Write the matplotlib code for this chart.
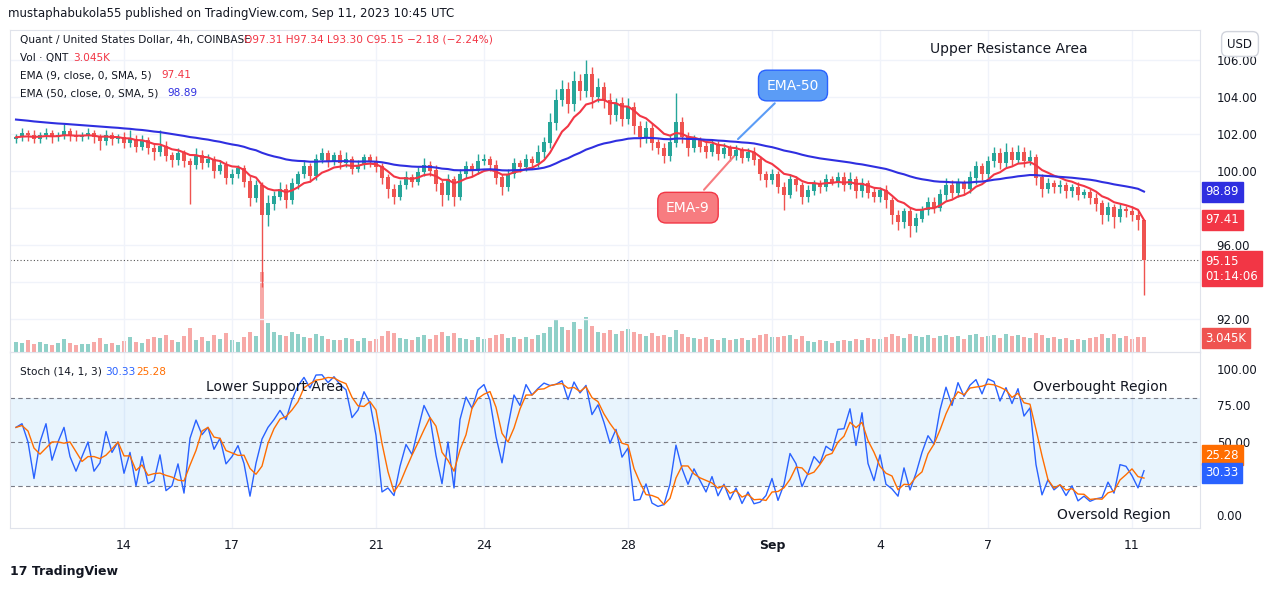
import numpy as np
import matplotlib.pyplot as plt

# ================= data (4h candles, Aug 11 00:00 -> Sep 11 08:00) =================
closes = [
    101.8, 102.0, 101.9, 101.7, 101.9, 102.0,
    101.8, 101.9, 102.1, 101.9, 101.8, 101.9,
    102.0, 101.8, 101.6, 101.9, 101.7, 101.8,
    101.5, 101.7, 101.3, 101.6, 101.2, 101.0,
    101.3, 100.8, 100.6, 100.9, 100.5, 100.3,
    100.8, 100.4, 100.6, 100.0, 100.3, 99.6,
    99.8, 100.1, 99.4, 98.5, 99.2, 97.6,
    98.2, 98.6, 99.0, 98.4, 99.3, 99.8,
    100.2, 99.7, 100.6, 100.9, 100.5, 100.8,
    100.4, 100.6, 100.1, 100.3, 100.7, 100.5,
    100.2, 99.6, 99.0, 98.6, 99.2, 99.6,
    99.4, 99.9, 100.3, 100.0, 99.3, 98.7,
    99.5, 98.6, 99.8, 100.2, 100.0, 100.5,
    100.6, 100.3, 99.6, 99.1, 99.8, 100.4,
    100.2, 100.6, 100.4, 101.0, 101.5, 102.6,
    103.8, 104.4, 103.6, 104.8, 104.3, 105.2,
    104.0, 104.5, 103.8, 103.0, 103.6, 102.8,
    103.4, 102.4, 101.8, 102.3, 101.5, 101.2,
    100.8, 101.5, 102.6, 101.8, 101.2, 101.6,
    101.3, 101.0, 101.4, 100.9, 101.2, 100.8,
    101.1, 100.7, 101.0, 100.6, 99.8, 99.5,
    99.8, 99.1, 98.7, 99.5, 99.2, 98.6,
    98.9, 99.3, 99.1, 99.5, 99.4, 99.6,
    99.2, 99.5, 98.9, 99.3, 98.8, 98.6,
    98.9, 98.4, 97.6, 97.2, 97.8, 97.0,
    97.4, 97.9, 98.3, 98.0, 98.7, 99.2,
    98.8, 99.3, 99.0, 99.6, 100.2, 99.8,
    100.5, 100.9, 100.4, 101.0, 100.6, 101.0,
    100.5, 100.7, 99.6, 99.0, 99.3, 99.1,
    99.2, 98.9, 99.1, 98.7, 98.8, 98.5,
    98.2, 97.6, 98.0, 97.5, 97.9, 97.8,
    97.6, 97.31, 95.15,
]
first_open = 101.7

# wick lengths above/below the body
wick_up = [
    0.2, 0.3, 0.2, 0.3, 0.2, 0.3, 0.2, 0.2, 0.4, 0.2, 0.3, 0.2,
    0.3, 0.2, 0.2, 0.3, 0.2, 0.2, 0.3, 0.5, 0.2, 0.3, 0.2, 0.3,
    0.9, 0.3, 0.2, 0.3, 0.2, 0.2, 0.4, 0.3, 0.3, 0.2, 0.3, 0.2,
    0.3, 0.2, 0.2, 0.3, 0.3, 0.2, 0.5, 0.3, 0.4, 0.3, 0.3, 0.2,
    0.4, 0.2, 0.3, 0.3, 0.2, 0.2, 0.3, 0.4, 0.2, 0.3, 0.2, 0.2,
    0.3, 0.2, 0.2, 0.3, 0.3, 0.4, 0.2, 0.3, 0.4, 0.2, 0.3, 0.2,
    0.3, 0.2, 0.3, 0.3, 0.2, 0.4, 0.3, 0.2, 0.3, 0.2, 0.3, 0.3,
    0.2, 0.3, 0.2, 0.4, 0.3, 0.5, 0.6, 0.5, 0.4, 0.6, 0.4, 0.8,
    0.4, 0.5, 0.3, 0.4, 0.3, 0.4, 0.5, 0.3, 0.3, 0.4, 0.3, 0.2,
    0.3, 0.4, 1.6, 0.3, 0.3, 0.3, 0.2, 0.3, 0.3, 0.2, 0.3, 0.2,
    0.3, 0.2, 0.2, 0.3, 0.2, 0.2, 0.3, 0.2, 0.3, 0.3, 0.2, 0.2,
    0.3, 0.2, 0.2, 0.3, 0.2, 0.3, 0.3, 0.4, 0.2, 0.3, 0.2, 0.3,
    0.2, 0.3, 0.2, 0.3, 0.2, 0.2, 0.3, 0.2, 0.3, 0.3, 0.3, 0.4,
    0.3, 0.3, 0.2, 0.4, 0.3, 0.2, 0.3, 0.4, 0.3, 0.5, 0.3, 0.4,
    0.3, 0.4, 0.2, 0.2, 0.3, 0.2, 0.3, 0.2, 0.2, 0.3, 0.2, 0.2,
    0.3, 0.2, 0.3, 0.2, 0.3, 0.2, 0.3, 0.2, 0.03,
]
wick_dn = [
    0.2, 0.2, 0.3, 0.2, 0.2, 0.2, 0.3, 0.2, 0.2, 0.3, 0.2, 0.2,
    0.2, 0.3, 0.5, 0.2, 0.3, 0.2, 0.3, 0.2, 0.3, 0.2, 0.3, 0.4,
    0.2, 0.3, 0.4, 0.3, 0.3, 2.1, 0.2, 0.3, 0.2, 0.4, 0.2, 0.3,
    0.3, 0.2, 0.3, 0.4, 0.2, 3.9, 0.6, 0.3, 0.2, 0.4, 0.2, 0.3,
    0.2, 0.3, 0.2, 0.2, 0.3, 0.2, 0.3, 0.2, 0.3, 0.2, 0.2, 0.3,
    0.3, 0.3, 0.5, 0.4, 0.2, 0.2, 0.3, 0.2, 0.2, 0.3, 0.4, 0.6,
    0.3, 0.5, 0.2, 0.2, 0.3, 0.2, 0.2, 0.3, 0.3, 0.4, 0.2, 0.2,
    0.3, 0.2, 0.3, 0.2, 0.3, 0.3, 0.4, 0.3, 0.5, 0.4, 0.5, 0.3,
    0.6, 0.3, 0.4, 0.5, 0.3, 0.4, 0.3, 0.4, 0.5, 0.3, 0.4, 0.3,
    0.4, 0.3, 0.2, 0.3, 0.4, 0.2, 0.3, 0.3, 0.2, 0.3, 0.2, 0.3,
    0.2, 0.3, 0.2, 0.3, 0.3, 0.4, 0.2, 0.3, 0.8, 0.2, 0.3, 0.4,
    0.3, 0.2, 0.3, 0.2, 0.2, 0.3, 0.3, 0.2, 0.4, 0.3, 0.3, 0.3,
    0.3, 0.4, 0.5, 0.4, 0.3, 0.6, 0.3, 0.2, 0.3, 0.3, 0.2, 0.3,
    0.3, 0.2, 0.3, 0.2, 0.3, 0.3, 0.2, 0.3, 0.3, 0.2, 0.3, 0.2,
    0.3, 0.2, 0.4, 0.4, 0.2, 0.3, 0.3, 0.4, 0.3, 0.3, 0.2, 0.3,
    0.4, 0.5, 0.3, 0.6, 0.3, 0.3, 0.3, 0.5, 1.85,
]
volumes = [
    2.1, 1.8, 2.4, 1.6, 2.0, 1.7, 1.5, 1.9, 2.6, 1.8, 1.4, 1.6,
    1.7, 2.0, 2.9, 1.6, 1.9, 1.5, 2.2, 3.1, 2.0, 1.8, 2.6, 3.0,
    2.8, 3.5, 2.4, 2.0, 3.2, 4.9, 2.5, 3.0, 2.2, 3.4, 2.6, 3.8,
    2.4, 2.1, 3.0, 4.2, 3.3, 16.5, 6.0, 4.1, 3.5, 3.2, 4.0, 3.6,
    3.1, 2.8, 3.6, 3.2, 2.7, 2.5, 2.4, 2.9, 2.6, 2.3, 2.8, 2.2,
    2.6, 3.3, 4.4, 3.9, 2.9, 2.6, 2.5, 3.1, 3.4, 2.6, 3.5, 4.1,
    3.2, 3.8, 2.9, 2.7, 2.4, 3.1, 2.6, 2.9, 3.4, 3.7, 2.8, 3.0,
    2.7, 3.0, 2.6, 3.5, 3.9, 5.2, 6.8, 5.1, 4.6, 6.2, 4.7, 7.1,
    5.4, 4.2, 3.9, 4.6, 3.6, 4.4, 4.8, 4.1, 3.7, 3.3, 3.8, 3.2,
    3.5, 3.0, 4.6, 3.6, 3.1, 2.8, 2.6, 3.0, 2.7, 2.4, 2.9, 2.5,
    2.6, 2.8, 2.4, 2.9, 3.4, 3.6, 3.1, 3.0, 3.3, 3.5, 2.7, 3.2,
    2.3, 2.1, 2.4, 2.2, 1.9, 2.3, 2.5, 2.2, 2.7, 2.4, 2.8, 2.6,
    2.7, 3.1, 3.6, 3.3, 2.9, 3.7, 3.3, 3.0, 3.4, 2.8, 3.2, 3.5,
    3.0, 3.2, 2.7, 3.4, 3.6, 3.1, 3.3, 3.5, 2.9, 3.6, 3.2, 3.4,
    3.1, 2.9, 3.8, 3.5, 2.8, 3.0, 2.6, 2.9, 2.5, 2.7, 2.4, 2.8,
    3.0, 3.6, 2.9, 3.7, 2.8, 3.2, 2.7, 3.0, 3.045,
]
day_labels = ['14', '17', '21', '24', '28', 'Sep', '4', '7', '11']
day_offsets = [3, 6, 10, 13, 17, 21, 24, 27, 31]  # days after Aug 11
price_ticks = [92, 94, 96, 98, 100, 102, 104, 106]
stoch_ticks = [0, 25, 50, 75, 100]

UP, DN = '#26a69a', '#ef5350'
EMA9_C, EMA50_C = '#f23645', '#2f2fe0'
STK_C, STD_C = '#2962ff', '#ff6d00'
GRID = '#f0f3fa'
TXT = '#131722'

closes = np.array(closes)
n = len(closes)
opens = np.concatenate([[first_open], closes[:-1]])
highs = np.maximum(opens, closes) + np.array(wick_up)
lows = np.minimum(opens, closes) - np.array(wick_dn)
x = np.arange(n)


def ema(v, span):
    a = 2 / (span + 1)
    out = np.empty_like(v)
    out[0] = v[0]
    for i in range(1, len(v)):
        out[i] = a * v[i] + (1 - a) * out[i - 1]
    return out


def sma(v, w):
    out = np.empty_like(v)
    for i in range(len(v)):
        out[i] = v[max(0, i - w + 1):i + 1].mean()
    return out


ema9 = ema(closes, 9)
ema50 = ema(np.concatenate([[102.8] * 40, closes]), 50)[40:]
ema9_last, ema50_last = 97.41, 98.89

# stochastic 14,1,3
k = np.empty(n)
for i in range(n):
    hh = highs[max(0, i - 13):i + 1].max()
    ll = lows[max(0, i - 13):i + 1].min()
    k[i] = 100 * (closes[i] - ll) / (hh - ll)
d = sma(k, 3)

# ================= figure =================
plt.rcParams['font.family'] = 'DejaVu Sans'
fig = plt.figure(figsize=(12.81, 5.89), dpi=100)
W, H = 1281, 589


def frac(px_l, px_t, px_r, px_b):
    return [px_l / W, 1 - px_b / H, (px_r - px_l) / W, (px_b - px_t) / H]


ax = fig.add_axes(frac(10, 30, 1200, 352))
axs = fig.add_axes(frac(10, 352, 1200, 528), sharex=ax)
x_px0 = 16
px_per = 6.0
xlim = ((10 - x_px0) / px_per, (1200 - x_px0) / px_per)

# price panel
ax.set_ylim(90.2, 107.6)
ax.set_xlim(*xlim)
for t in price_ticks:
    ax.axhline(t, color=GRID, lw=1, zorder=0)
for dd in day_offsets:
    ax.axvline(dd * 6, color=GRID, lw=1, zorder=0)
    axs.axvline(dd * 6, color=GRID, lw=1, zorder=0)

# volume on twin axis
axv = ax.twinx()
axv.set_ylim(0, max(volumes) / 0.25)
vcol = ['#8fd0c8' if c >= o else '#f7a9a7' for o, c in zip(opens, closes)]
axv.bar(x, volumes, width=0.75, color=vcol, zorder=1)
axv.set_yticks([])
axv.set_xlim(*xlim)
for s in axv.spines.values():
    s.set_visible(False)

cols = [UP if c >= o else DN for o, c in zip(opens, closes)]
ax.vlines(x, lows, highs, colors=cols, lw=1, zorder=3)
ax.bar(x, np.abs(closes - opens) + 0.03, bottom=np.minimum(opens, closes), width=0.7,
       color=cols, zorder=4)
ax.set_zorder(axv.get_zorder() + 1)
ax.patch.set_visible(False)
ax.plot(x, ema9, color=EMA9_C, lw=1.5, zorder=5)
ax.plot(x, ema50, color=EMA50_C, lw=1.5, zorder=5)
ax.axhline(closes[-1], color='#555', lw=0.8, ls=(0, (1, 2)), zorder=2)

ax.yaxis.tick_right()
ax.set_yticks(price_ticks)
ax.set_yticklabels([f'{t:.2f}' if t not in (94, 98) else '' for t in price_ticks],
                   fontsize=8.5, color=TXT)
ax.tick_params(axis='y', length=0, pad=12)
ax.tick_params(axis='x', length=0, labelbottom=False)
for s in ax.spines.values():
    s.set_color('#e0e3eb')


def tag(a, y, text, color):
    a.annotate(text, xy=(1, y), xycoords=('axes fraction', 'data'), xytext=(4, 0),
               textcoords='offset points', va='center', ha='left', fontsize=8.5, color='white',
               bbox=dict(boxstyle='square,pad=0.3', fc=color, ec=color), annotation_clip=False)


tag(ax, 98.85, f'{ema50_last:.2f}', EMA50_C)
tag(ax, 97.35, f'{ema9_last:.2f}', EMA9_C)
tag(ax, 94.7, f'{closes[-1]:.2f}\n01:14:06', EMA9_C)
tag(ax, 90.95, f'{volumes[-1]:.3f}K', DN)

# legend text
fs = 7.6
ax.text(0.008, 0.96, 'Quant / United States Dollar, 4h, COINBASE', transform=ax.transAxes, fontsize=fs, color=TXT)
ax.text(0.197, 0.96, f'O{opens[-1]:.2f} H97.34 L93.30 C{closes[-1]:.2f} −2.18 (−2.24%)',
        transform=ax.transAxes, fontsize=fs, color=EMA9_C)
ax.text(0.008, 0.905, 'Vol · QNT', transform=ax.transAxes, fontsize=fs, color=TXT)
ax.text(0.053, 0.905, '3.045K', transform=ax.transAxes, fontsize=fs, color=EMA9_C)
ax.text(0.008, 0.85, 'EMA (9, close, 0, SMA, 5)', transform=ax.transAxes, fontsize=fs, color=TXT)
ax.text(0.127, 0.85, f'{ema9_last:.2f}', transform=ax.transAxes, fontsize=fs, color=EMA9_C)
ax.text(0.008, 0.795, 'EMA (50, close, 0, SMA, 5)', transform=ax.transAxes, fontsize=fs, color=TXT)
ax.text(0.132, 0.795, f'{ema50_last:.2f}', transform=ax.transAxes, fontsize=fs, color=EMA50_C)
ax.text(0.773, 0.93, 'Upper Resistance Area', transform=ax.transAxes, fontsize=10, color=TXT)

# callouts
ax.annotate('EMA-50', xy=(120, 101.6), xytext=(129.5, 104.6), fontsize=10, color='white',
            ha='center', va='center',
            bbox=dict(boxstyle='round,pad=0.6', fc='#5b9cf6', ec='#2962ff'),
            arrowprops=dict(arrowstyle='-', color='#5b9cf6', lw=1.5))
ax.annotate('EMA-9', xy=(120, 100.9), xytext=(112, 98.0), fontsize=10, color='white',
            ha='center', va='center',
            bbox=dict(boxstyle='round,pad=0.6', fc='#f77c80', ec='#f23645'),
            arrowprops=dict(arrowstyle='-', color='#f77c80', lw=1.5))

# stoch panel
axs.set_ylim(-8.9, 111.6)
axs.axhspan(20, 80, color='#2196f3', alpha=0.1, lw=0)
for lv in (80, 50, 20):
    axs.axhline(lv, color='#787b86', lw=0.8, ls=(0, (4, 3)))
axs.plot(x, k, color=STK_C, lw=1)
axs.plot(x, d, color=STD_C, lw=1)
axs.yaxis.tick_right()
axs.set_yticks(stoch_ticks)
axs.set_yticklabels([f'{t:.2f}' if t != 25 else '' for t in stoch_ticks], fontsize=8.5, color=TXT)
axs.tick_params(axis='y', length=0, pad=12)
for s in axs.spines.values():
    s.set_color('#e0e3eb')
tag(axs, 41, f'{d[-1]:.2f}', STD_C)
tag(axs, 29, f'{k[-1]:.2f}', STK_C)
axs.text(0.008, 0.87, 'Stoch (14, 1, 3)', transform=axs.transAxes, fontsize=fs, color=TXT)
axs.text(0.08, 0.87, f'{k[-1]:.2f}', transform=axs.transAxes, fontsize=fs, color=STK_C)
axs.text(0.106, 0.87, f'{d[-1]:.2f}', transform=axs.transAxes, fontsize=fs, color=STD_C)
axs.text(0.165, 0.78, 'Lower Support Area', transform=axs.transAxes, fontsize=10, color=TXT)
axs.text(0.86, 0.78, 'Overbought Region', transform=axs.transAxes, fontsize=10, color=TXT)
axs.text(0.88, 0.05, 'Oversold Region', transform=axs.transAxes, fontsize=10, color=TXT)

axs.set_xticks([dd * 6 for dd in day_offsets])
axs.set_xticklabels(day_labels, fontsize=9, color=TXT)
for lbl, t in zip(axs.get_xticklabels(), day_labels):
    if t == 'Sep':
        lbl.set_fontweight('bold')
axs.tick_params(axis='x', length=0, pad=8)

fig.text(8 / W, 1 - 14 / H, 'mustaphabukola55 published on TradingView.com, Sep 11, 2023 10:45 UTC',
         fontsize=8.5, color=TXT, va='center')
fig.text(10 / W, 1 - 572 / H, '17 TradingView', fontsize=9, color=TXT, va='center', fontweight='bold')
fig.text(1240 / W, 1 - 44 / H, 'USD', fontsize=8.5, color=TXT, va='center', ha='center',
         bbox=dict(boxstyle='round,pad=0.5', fc='white', ec='#d1d4dc'))

fig.savefig('out.png', dpi=100)
